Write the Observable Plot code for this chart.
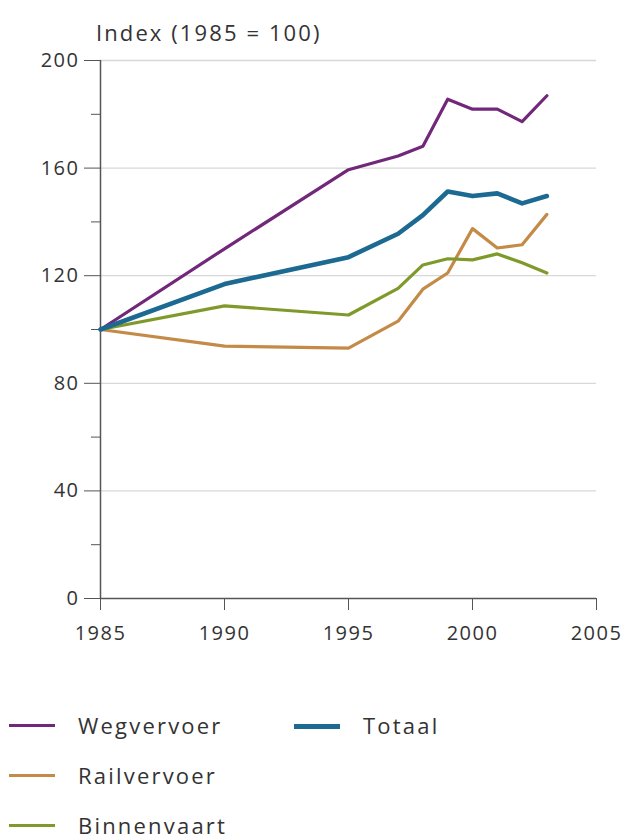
<!DOCTYPE html>
<html>
<head>
<meta charset="utf-8">
<script src="https://cdn.jsdelivr.net/npm/d3@7"></script>
<script src="https://cdn.jsdelivr.net/npm/@observablehq/plot@0.6"></script>
<style>
  html, body { margin: 0; padding: 0; background: #fff; }
  #wrap { position: relative; width: 625px; height: 839px; font-family: "Open Sans", Lato, sans-serif; color: #333; }
  #title { position: absolute; left: 96px; top: 20px; font-size: 22px; line-height: 24px; letter-spacing: 2.1px; white-space: nowrap; }
  #chart { position: absolute; left: 0; top: 0; }
  .lg { position: absolute; font-size: 22px; line-height: 24px; letter-spacing: 2.2px; white-space: nowrap; }
  .sw { position: absolute; height: 0; }
</style>
</head>
<body>
<div id="wrap">
  <div id="chart"></div>
  <div id="title">Index (1985 = 100)</div>
  <div id="legend"></div>
</div>
<script>
const years = [1985, 1990, 1995, 1997, 1998, 1999, 2000, 2001, 2002, 2003];
const wegvervoer  = [100, 130.0, 159.4, 164.5, 168.1, 185.6, 181.9, 181.9, 177.3, 186.9];
const railvervoer = [100, 93.8, 93.1, 103.1, 115.0, 121.0, 137.5, 130.3, 131.5, 142.8];
const binnenvaart = [100, 108.8, 105.4, 115.3, 124.0, 126.3, 125.9, 128.1, 124.8, 121.0];
const totaal      = [100, 116.9, 126.9, 135.6, 142.5, 151.3, 149.6, 150.6, 146.9, 149.6];

const seriesNames = ["Wegvervoer", "Railvervoer", "Binnenvaart", "Totaal"];
const seriesValues = [wegvervoer, railvervoer, binnenvaart, totaal];
const seriesColors = ["#72287a", "#c48a48", "#7f9a2b", "#1c6a91"];
const seriesWidths = [3.2, 3.2, 3.2, 4.6];

const xTicks = [1985, 1990, 1995, 2000, 2005];
const yMajor = [0, 40, 80, 120, 160, 200];
const yMinor = [20, 60, 100, 140, 180];
const yGrid = [40, 80, 120, 160, 200];

const rows = [];
seriesNames.forEach((name, i) => {
  years.forEach((yr, j) => rows.push({series: name, year: yr, value: seriesValues[i][j]}));
});

const axisColor = "#555";
const tickFont = "Open Sans, Lato, sans-serif";
const plot = Plot.plot({
  width: 625,
  height: 680,
  marginLeft: 100,
  marginRight: 29,
  marginTop: 60,
  marginBottom: 82,
  style: {fontFamily: tickFont, fontSize: "20px", color: "#333", background: "transparent", letterSpacing: "1.5px"},
  x: {domain: [1985, 2005], axis: null},
  y: {domain: [0, 200], axis: null},
  marks: [
    Plot.gridY(yGrid, {stroke: "#d8d8d8", strokeOpacity: 1, strokeWidth: 1.3}),
    Plot.axisY(yMinor, {tickSize: 9, tickFormat: () => "", stroke: axisColor, label: null}),
    Plot.axisY(yMajor, {tickSize: 16, tickPadding: 5, stroke: axisColor, fill: "#333", label: null, fontSize: 20}),
    Plot.axisX(xTicks, {tickSize: 12, tickPadding: 15, tickFormat: d => String(d), stroke: axisColor, fill: "#333", label: null, fontSize: 20}),
    Plot.ruleY([0], {stroke: axisColor, strokeWidth: 1.5}),
    Plot.ruleX([1985], {y1: 0, y2: 200, stroke: axisColor, strokeWidth: 1.5}),
    ...seriesNames.map((name, i) =>
      Plot.line(rows.filter(d => d.series === name), {
        x: "year", y: "value", stroke: seriesColors[i], strokeWidth: seriesWidths[i],
        strokeLinejoin: "round", strokeLinecap: "round"
      }))
  ]
});
document.getElementById("chart").appendChild(plot);

// legend
const legendPos = [
  {x: 9, y: 726},  // Wegvervoer
  {x: 9, y: 776},  // Railvervoer
  {x: 9, y: 826},  // Binnenvaart
  {x: 294, y: 726} // Totaal
];
const lg = document.getElementById("legend");
seriesNames.forEach((name, i) => {
  const p = legendPos[i];
  const sw = document.createElement("div");
  sw.className = "sw";
  sw.style.left = p.x + "px";
  sw.style.width = "46px";
  const w = i === 3 ? 5 : 3.5;
  sw.style.top = (p.y - w / 2) + "px";
  sw.style.borderTop = w + "px solid " + seriesColors[i];
  lg.appendChild(sw);
  const t = document.createElement("div");
  t.className = "lg";
  t.textContent = name;
  t.style.left = (p.x + 69) + "px";
  t.style.top = (p.y - 13) + "px";
  lg.appendChild(t);
});
</script>
</body>
</html>
